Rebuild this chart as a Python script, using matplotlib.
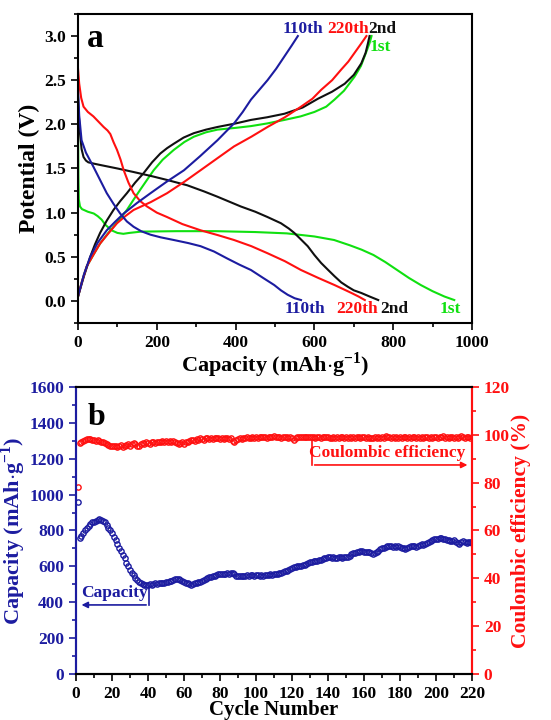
import numpy as np
import matplotlib
matplotlib.use('Agg')
import matplotlib.pyplot as plt
from matplotlib.ticker import MultipleLocator

plt.rcParams['font.family'] = ['Liberation Serif', 'DejaVu Serif']
plt.rcParams['font.weight'] = 'bold'
plt.rcParams['mathtext.fontset'] = 'custom'
plt.rcParams['mathtext.rm'] = 'Liberation Serif:bold'
plt.rcParams['mathtext.bf'] = 'Liberation Serif:bold'

BLUE = '#1c1ca0'
RED = '#ff1010'
GREEN = '#10e010'
BLACK = '#101010'

# ---- panel a: charge / discharge profiles (capacity mAh/g, potential V) ----
dis1_cap = [0, 0.5, 1, 2, 5, 10, 25, 40, 50, 60, 70, 85, 100, 115, 130, 160, 250, 350, 450,
            530, 600, 650, 690, 720, 750, 780, 810, 840, 870, 900, 930, 955]
dis1_v = [1.97, 1.7, 1.4, 1.15, 1.07, 1.04, 1.01, 0.99, 0.96, 0.92, 0.86, 0.80, 0.77, 0.76, 0.77, 0.785, 0.79, 0.79, 0.78,
          0.765, 0.73, 0.69, 0.63, 0.58, 0.52, 0.44, 0.35, 0.26, 0.18, 0.11, 0.05, 0.01]
chg1_cap = [0, 10, 22, 40, 56, 75, 90, 110, 124, 140, 158, 175, 192, 215, 243, 270, 294, 325, 354, 400, 439,
            480, 524, 565, 600, 630, 651, 675, 702, 718, 730, 740, 745]
chg1_v = [0.05, 0.22, 0.39, 0.53, 0.65, 0.76, 0.84, 0.95, 1.03, 1.14, 1.26, 1.37, 1.48, 1.60, 1.71, 1.80, 1.86, 1.91, 1.94, 1.96, 1.98,
          2.01, 2.05, 2.09, 2.14, 2.20, 2.28, 2.38, 2.54, 2.66, 2.80, 2.92, 3.0]

dis2_cap = [0, 2, 5, 9, 14, 20, 26, 40, 56, 100, 141, 190, 226, 277, 320, 354, 413, 450, 481, 515, 535, 549,
            565, 583, 600, 617, 635, 651, 668, 685, 700, 719, 740, 762]
dis2_v = [2.31, 2.1, 1.90, 1.72, 1.63, 1.59, 1.57, 1.555, 1.54, 1.50, 1.46, 1.41, 1.37, 1.31, 1.24, 1.18, 1.07, 1.01, 0.95, 0.88, 0.82, 0.77,
          0.70, 0.62, 0.52, 0.43, 0.35, 0.28, 0.21, 0.16, 0.12, 0.09, 0.05, 0.01]
chg2_cap = [0, 15, 31, 43, 56, 73, 90, 107, 124, 145, 167, 188, 209, 226, 243, 268, 294, 325, 354, 400, 439,
            480, 524, 570, 609, 645, 677, 700, 719, 730, 736, 740]
chg2_v = [0.05, 0.28, 0.50, 0.64, 0.77, 0.91, 1.03, 1.13, 1.22, 1.34, 1.45, 1.57, 1.67, 1.73, 1.78, 1.85, 1.90, 1.94, 1.97, 2.01, 2.05,
          2.08, 2.12, 2.19, 2.29, 2.37, 2.46, 2.56, 2.69, 2.81, 2.92, 3.0]

dis110_cap = [0, 3, 9, 20, 39, 56, 73, 90, 107, 124, 141, 160, 184, 210, 243, 280, 311, 345, 379, 410, 439,
              470, 498, 515, 532, 550, 566]
dis110_v = [2.39, 2.1, 1.82, 1.68, 1.52, 1.37, 1.22, 1.10, 0.99, 0.90, 0.84, 0.79, 0.75, 0.72, 0.69, 0.655, 0.62, 0.56, 0.48, 0.41, 0.35,
            0.26, 0.18, 0.12, 0.07, 0.03, 0.01]
chg110_cap = [0, 15, 31, 50, 73, 95, 116, 150, 184, 225, 269, 310, 354, 376, 396, 418, 439, 460, 481, 503, 524, 542, 558]
chg110_v = [0.05, 0.30, 0.50, 0.66, 0.80, 0.90, 0.99, 1.11, 1.22, 1.35, 1.48, 1.64, 1.82, 1.92, 2.01, 2.14, 2.28, 2.39, 2.50, 2.63, 2.77, 2.89, 3.0]

dis220_cap = [0, 3, 8, 14, 25, 39, 52, 65, 75, 82, 90, 99, 108, 116, 128, 141, 158, 175, 200, 226, 265, 311, 355,
              396, 440, 481, 525, 566, 610, 651, 675, 694, 712, 728]
dis220_v = [2.63, 2.46, 2.30, 2.20, 2.14, 2.09, 2.03, 1.97, 1.93, 1.89, 1.80, 1.71, 1.60, 1.48, 1.34, 1.22, 1.13, 1.07, 1.00, 0.95, 0.87, 0.80, 0.745,
            0.69, 0.62, 0.54, 0.45, 0.35, 0.26, 0.18, 0.13, 0.09, 0.05, 0.01]
chg220_cap = [0, 10, 22, 40, 56, 78, 99, 120, 141, 185, 226, 270, 311, 355, 396, 440, 481, 525, 566, 595, 617, 645, 668, 686, 702, 718, 732]
chg220_v = [0.05, 0.22, 0.39, 0.53, 0.65, 0.77, 0.88, 0.96, 1.03, 1.12, 1.22, 1.35, 1.48, 1.62, 1.75, 1.86, 1.97, 2.08, 2.20, 2.29, 2.39, 2.50, 2.62, 2.71, 2.81, 2.91, 3.0]

# ---- panel b: cycling ----
capacity = [
    960, 760, 770, 785, 800, 815, 825, 835, 845, 850,
    855, 860, 862, 860, 855, 845, 830, 815, 800, 785,
    765, 745, 725, 705, 685, 665, 645, 620, 600, 580,
    565, 550, 535, 525, 515, 505, 500, 495, 495, 497,
    500, 495, 500, 505, 502, 507, 510, 505, 510, 512,
    515, 518, 520, 525, 527, 530, 530, 525, 520, 515,
    510, 505, 500, 498, 502, 505, 508, 512, 515, 520,
    525, 530, 535, 538, 542, 545, 548, 552, 555, 556,
    558, 557, 560, 562, 560, 563, 565, 555, 548, 545,
    547, 545, 548, 546, 550, 548, 552, 550, 548, 550,
    552, 548, 550, 545, 550, 553, 551, 555, 552, 557,
    558, 560, 565, 563, 568, 572, 575, 580, 585, 590,
    595, 598, 600, 603, 600, 605, 610, 612, 618, 622,
    625, 628, 632, 630, 635, 638, 642, 645, 648, 650,
    652, 648, 650, 645, 648, 650, 652, 648, 650, 652,
    655, 660, 668, 672, 675, 680, 682, 685, 683, 680,
    678, 682, 680, 675, 670, 672, 678, 685, 695, 702,
    705, 710, 712, 715, 713, 710, 712, 708, 712, 710,
    705, 700, 698, 702, 708, 712, 715, 712, 708, 715,
    718, 722, 720, 725, 730, 735, 740, 745, 750, 752,
    755, 758, 760, 755, 750, 745, 748, 742, 740, 745,
    735, 730, 725, 735, 740, 735, 730, 738, 735, 730,
]
efficiency = [
    78, 96.5, 97, 97.5, 98, 98.2, 98.4, 98.2, 98, 97.8,
    97.5, 97.8, 97.5, 97.2, 97, 96.5, 96, 95.8, 95.5, 95.3,
    95.5, 95.2, 95, 95.3, 95.6, 95, 95.3, 95.8, 96, 95.5,
    96, 96.4, 96, 95.5, 95.2, 96, 96.5, 96.2, 96.8, 96.5,
    96.3, 96.8, 97, 96.5, 97.2, 97, 96.8, 97.3, 97, 97.5,
    97.2, 97.5, 97, 97.3, 96.8, 96.5, 96.2, 96.5, 96.8, 96.3,
    96.8, 97.2, 97.5, 97.8, 98, 97.5, 98.2, 98, 98.5, 98.2,
    98, 98.5, 98.8, 98.3, 98.6, 98.2, 98.5, 98.8, 98.5, 98.2,
    98.6, 98.4, 98.8, 98.5, 98.2, 98.6, 97.5, 97, 97.8, 98.2,
    98.5, 98.3, 98.7, 98.5, 99, 98.6, 98.8, 99.2, 98.8, 99,
    98.7, 99.2, 99.3, 98.9, 99.1, 98.7, 99.3, 99, 99.2, 99.4,
    99.1, 99.3, 99, 98.8, 99.2, 98.9, 99.1, 98.7, 99, 98.6,
    98, 98.8, 99.1, 98.9, 99.2, 98.9, 99.3, 99, 99.1, 98.9,
    99.2, 99, 98.8, 99.1, 99, 98.7, 99, 99.2, 98.9, 99.1,
    98.8, 98.5, 99, 98.7, 99.1, 98.6, 98.9, 99.2, 98.8, 99,
    98.7, 99.1, 98.8, 99.2, 98.5, 98.9, 99.1, 98.8, 99.3, 98.9,
    98.6, 99, 98.8, 98.5, 98.7, 99, 98.8, 99.3, 98.6, 99.1,
    98.8, 99.4, 98.9, 99.2, 98.6, 99, 98.8, 99.3, 98.7, 99.1,
    98.5, 98.9, 99.2, 98.7, 99.1, 98.8, 99.3, 98.9, 98.6, 99.2,
    98.8, 99.1, 98.7, 99.3, 98.9, 98.6, 99.1, 98.8, 99.2, 98.9,
    98.7, 99.2, 98.9, 99.4, 98.8, 99.1, 98.7, 99.3, 98.9, 98.6,
    99.2, 98.8, 99.1, 99.4, 98.9, 98.7, 99, 99.2, 98.8, 99,
]
cycles = np.arange(1, len(capacity) + 1)

TICK_FS = 12.5
LABEL_FS = 16

fig = plt.figure(figsize=(5.51, 7.2), dpi=100)

# ===== panel a =====
ax = fig.add_axes([0.1416, 0.5514, 0.715, 0.4292])
lw = 1.5
ax.plot(dis1_cap, dis1_v, color=GREEN, lw=lw)
ax.plot(chg1_cap, chg1_v, color=GREEN, lw=lw)
ax.plot(dis2_cap, dis2_v, color=BLACK, lw=lw)
ax.plot(chg2_cap, chg2_v, color=BLACK, lw=lw)
ax.plot(dis220_cap, dis220_v, color=RED, lw=lw)
ax.plot(chg220_cap, chg220_v, color=RED, lw=lw)
ax.plot(dis110_cap, dis110_v, color=BLUE, lw=lw)
ax.plot(chg110_cap, chg110_v, color=BLUE, lw=lw)

ax.set_xlim(0, 1000)
ax.set_ylim(-0.25, 3.25)
ax.xaxis.set_major_locator(MultipleLocator(200))
ax.xaxis.set_minor_locator(MultipleLocator(100))
ax.yaxis.set_major_locator(MultipleLocator(0.5))
ax.yaxis.set_minor_locator(MultipleLocator(0.25))
ax.set_yticks(np.arange(0, 3.01, 0.5))
ax.tick_params(which='both', direction='out', labelsize=TICK_FS, width=1.2)
ax.tick_params(which='major', length=5)
ax.tick_params(which='minor', length=3)
for s in ax.spines.values():
    s.set_linewidth(1.5)
ax.set_xlabel(r'Capacity (mAh$\cdot$g$^{\mathregular{-1}}$)', fontsize=LABEL_FS, fontweight='bold', labelpad=0)
ax.set_ylabel('Potential (V)', fontsize=17, fontweight='bold', labelpad=3)

ax.text(43, 2.97, 'a', fontsize=24, fontweight='bold', ha='center', va='center')
top_y = 3.08
ax.text(520, top_y, '110th', color=BLUE, fontsize=12.5, fontweight='bold', va='center')
ax.text(632, top_y, '220th', color=RED, fontsize=12.5, fontweight='bold', va='center')
ax.text(736, top_y, '2nd', color=BLACK, fontsize=12.5, fontweight='bold', va='center')
ax.text(740, 2.88, '1st', color=GREEN, fontsize=12.5, fontweight='bold', va='center')
bot_y = -0.09
ax.text(524, bot_y, '110th', color=BLUE, fontsize=12.5, fontweight='bold', va='center')
ax.text(656, bot_y, '220th', color=RED, fontsize=12.5, fontweight='bold', va='center')
ax.text(766, bot_y, '2nd', color=BLACK, fontsize=12.5, fontweight='bold', va='center')
ax.text(919, bot_y, '1st', color=GREEN, fontsize=12.5, fontweight='bold', va='center')

# ===== panel b =====
bx = fig.add_axes([0.138, 0.0639, 0.7187, 0.3986])
bx2 = bx.twinx()
bx.plot(cycles, capacity, 'o', ms=3.8, mfc='none', mec=BLUE, mew=1.0)
bx2.plot(cycles, efficiency, 'o', ms=3.8, mfc='none', mec=RED, mew=1.0)

bx.set_xlim(0, 220)
bx.set_ylim(0, 1600)
bx2.set_ylim(0, 120)
bx.xaxis.set_major_locator(MultipleLocator(20))
bx.xaxis.set_minor_locator(MultipleLocator(10))
bx.yaxis.set_major_locator(MultipleLocator(200))
bx.yaxis.set_minor_locator(MultipleLocator(100))
bx2.yaxis.set_major_locator(MultipleLocator(20))
bx2.yaxis.set_minor_locator(MultipleLocator(10))

for a in (bx, bx2):
    a.tick_params(which='both', direction='out', labelsize=TICK_FS, width=1.2)
    a.tick_params(which='major', length=5)
    a.tick_params(which='minor', length=3)
    for s in a.spines.values():
        s.set_linewidth(1.5)
bx.tick_params(axis='y', which='both', colors=BLUE)
bx2.tick_params(axis='y', which='both', colors=RED)
bx2.spines['left'].set_color(BLUE)
bx2.spines['right'].set_color(RED)
bx.spines['left'].set_color(BLUE)
bx.spines['right'].set_color(RED)

bx.set_xlabel('Cycle Number', fontsize=15, fontweight='bold', labelpad=-1)
bx.set_ylabel(r'Capacity (mAh$\cdot$g$^{\mathregular{-1}}$)', fontsize=LABEL_FS, fontweight='bold', color=BLUE, labelpad=1)
bx2.set_ylabel('Coulombic efficiency (%)', fontsize=15.5, fontweight='bold', color=RED, labelpad=1)

bx.text(11.6, 1430, 'b', fontsize=23, fontweight='bold', ha='center', va='center')

# capacity callout
bx.plot([40.5, 40.5], [485, 385], color=BLUE, lw=1.2)
bx.annotate('', xy=(1.5, 385), xytext=(40.5, 385),
            arrowprops=dict(arrowstyle='-|>', color=BLUE, lw=1.2, mutation_scale=9))
bx.text(21.5, 452, 'Capacity', color=BLUE, fontsize=12.5, fontweight='bold', ha='center', va='center')

# efficiency callout
bx2.plot([131, 131], [97.8, 87.4], color=RED, lw=1.2)
bx2.annotate('', xy=(219, 87.4), xytext=(131, 87.4),
             arrowprops=dict(arrowstyle='-|>', color=RED, lw=1.2, mutation_scale=9))
bx2.text(173, 92.4, 'Coulombic efficiency', color=RED, fontsize=12.5, fontweight='bold', ha='center', va='center')

fig.savefig('out.png', dpi=100)
